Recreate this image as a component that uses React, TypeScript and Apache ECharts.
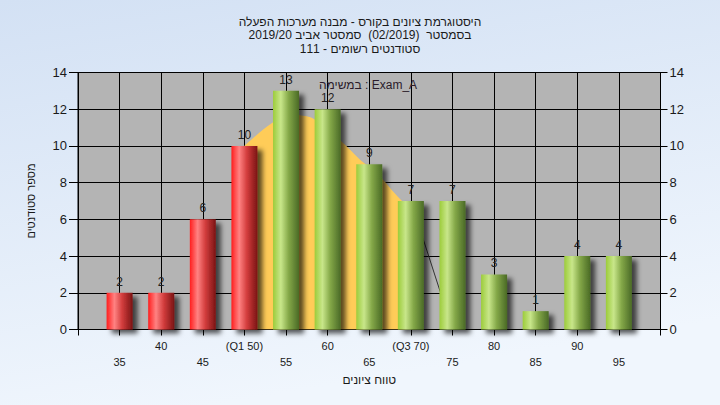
import React, { useEffect, useRef } from "react";
import * as echarts from "echarts";

// ---- data ----
const scores = [35, 40, 45, 50, 55, 60, 65, 70, 75, 80, 85, 90, 95];
const counts = [2, 2, 6, 10, 13, 12, 9, 7, 7, 3, 1, 4, 4];
const tickLabels = ["35", "40", "45", "(Q1 50)", "55", "60", "65", "(Q3 70)", "75", "80", "85", "90", "95"];
const redUpToScore = 50;
const curveX = [50, 52, 54, 56, 58, 60, 62, 64, 66, 68, 70];
const curveY = [10, 10.8, 11.45, 11.7, 11.55, 10.95, 10.1, 9.2, 8.5, 7.45, 6.5];
const tailX = [70, 75];
const tailY = [7, 0];
const yMin = 0;
const yMax = 14;
const yStep = 2;
const xMin = 30;
const xMax = 100;
const xStep = 5;

const titleLines = [
  "היסטוגרמת ציונים בקורס - מבנה מערכות הפעלה",
  "בסמסטר  (02/2019)  סמסטר אביב 2019/20",
  "סטודנטים רשומים - 111",
];
const xAxisName = "טווח ציונים";
const yAxisName = "מספר סטודנטים";
const examLabel = "במשימה : Exam_A";

const FONT = "Liberation Sans, Arial, sans-serif";
const TXT = "#1a1a1a";

export default function App() {
  const ref = useRef<HTMLDivElement>(null);
  useEffect(() => {
    if (!ref.current) return;
    const chart = echarts.init(ref.current, undefined, { renderer: "svg" });

    const redGrad = new echarts.graphic.LinearGradient(0, 0, 1, 0, [
      { offset: 0, color: "#ff1e1e" },
      { offset: 0.3, color: "#ff8282" },
      { offset: 0.6, color: "#d23c3c" },
      { offset: 1, color: "#7a1414" },
    ]);
    const greenGrad = new echarts.graphic.LinearGradient(0, 0, 1, 0, [
      { offset: 0, color: "#9ccc3a" },
      { offset: 0.3, color: "#c8e68a" },
      { offset: 0.6, color: "#84a848" },
      { offset: 1, color: "#4a6a26" },
    ]);

    const barData = scores.map((s, i) => ({
      value: [s, counts[i]],
      itemStyle: { color: s <= redUpToScore ? redGrad : greenGrad },
    }));

    const option: any = {
      animation: false,
      backgroundColor: new echarts.graphic.LinearGradient(0, 0, 0.3, 1, [
        { offset: 0, color: "#d3e1f4" },
        { offset: 1, color: "#f0f6fd" },
      ]),
      textStyle: { fontFamily: FONT },
      title: {
        text: titleLines.join("\n"),
        left: "center",
        top: 10,
        textStyle: { fontSize: 12, fontWeight: "normal", color: TXT, lineHeight: 13.5, fontFamily: FONT },
      },
      grid: {
        left: 78,
        right: 59.5,
        top: 72.5,
        bottom: 75.5,
        show: true,
        backgroundColor: "#b4b4b4",
        borderColor: "#000",
        borderWidth: 1,
      },
      xAxis: {
        type: "value",
        min: xMin,
        max: xMax,
        interval: xStep,
        name: xAxisName,
        nameLocation: "middle",
        nameGap: 44,
        nameTextStyle: { fontSize: 12, color: TXT, fontFamily: FONT },
        axisLine: { show: true, lineStyle: { color: "#000" } },
        axisTick: { show: true, length: 6, lineStyle: { color: "#000" } },
        splitLine: { show: true, lineStyle: { color: "#000", width: 1 } },
        axisLabel: {
          fontSize: 11,
          color: TXT,
          margin: 8,
          lineHeight: 16,
          fontFamily: FONT,
          formatter: (v: number) => {
            const i = scores.indexOf(v);
            if (i < 0) return "";
            return i % 2 === 1 ? tickLabels[i] : "\n" + tickLabels[i];
          },
        },
      },
      yAxis: [
        {
          type: "value",
          min: yMin,
          max: yMax,
          interval: yStep,
          name: yAxisName,
          nameLocation: "middle",
          nameRotate: 90,
          nameGap: 42,
          nameTextStyle: { fontSize: 11, color: TXT, fontFamily: FONT },
          axisLine: { show: true, lineStyle: { color: "#000" } },
          axisTick: { show: true, length: 9, lineStyle: { color: "#000" } },
          splitLine: { show: true, lineStyle: { color: "#000", width: 1 } },
          axisLabel: { fontSize: 13, color: TXT, margin: 11, fontFamily: FONT },
        },
        {
          type: "value",
          min: yMin,
          max: yMax,
          interval: yStep,
          position: "right",
          axisLine: { show: true, lineStyle: { color: "#000" } },
          axisTick: { show: true, length: 7, lineStyle: { color: "#000" } },
          splitLine: { show: false },
          axisLabel: { fontSize: 13, color: TXT, margin: 9, fontFamily: FONT },
        },
      ],
      graphic: [
        {
          type: "text",
          x: 368,
          y: 85,
          style: {
            text: examLabel,
            fontSize: 12,
            fontFamily: FONT,
            fill: "#2b1b2b",
            align: "center",
            verticalAlign: "middle",
          },
          z: 100,
        },
      ],
      series: [
        {
          type: "line",
          data: curveX.map((x, i) => [x, curveY[i]]),
          smooth: 0.2,
          symbol: "none",
          lineStyle: { width: 0 },
          areaStyle: { color: "#ffcc58", opacity: 1 },
          z: 1,
          silent: true,
        },
        {
          type: "line",
          data: tailX.map((x, i) => [x, tailY[i]]),
          symbol: "none",
          lineStyle: { color: "#333", width: 1 },
          z: 2,
          silent: true,
        },
        {
          type: "bar",
          data: barData,
          barWidth: 26,
          z: 3,
          itemStyle: {
            shadowBlur: 5,
            shadowOffsetX: 5,
            shadowOffsetY: 4,
            shadowColor: "rgba(0,0,0,0.65)",
          },
          label: {
            show: true,
            position: "top",
            distance: 5,
            fontSize: 12,
            color: "#222",
            fontFamily: FONT,
          },
        },
      ],
    };
    chart.setOption(option);
    return () => chart.dispose();
  }, []);
  return (
    <div
      ref={ref}
      style={{ position: "fixed", left: 0, top: 0, width: 720, height: 405 }}
    />
  );
}
